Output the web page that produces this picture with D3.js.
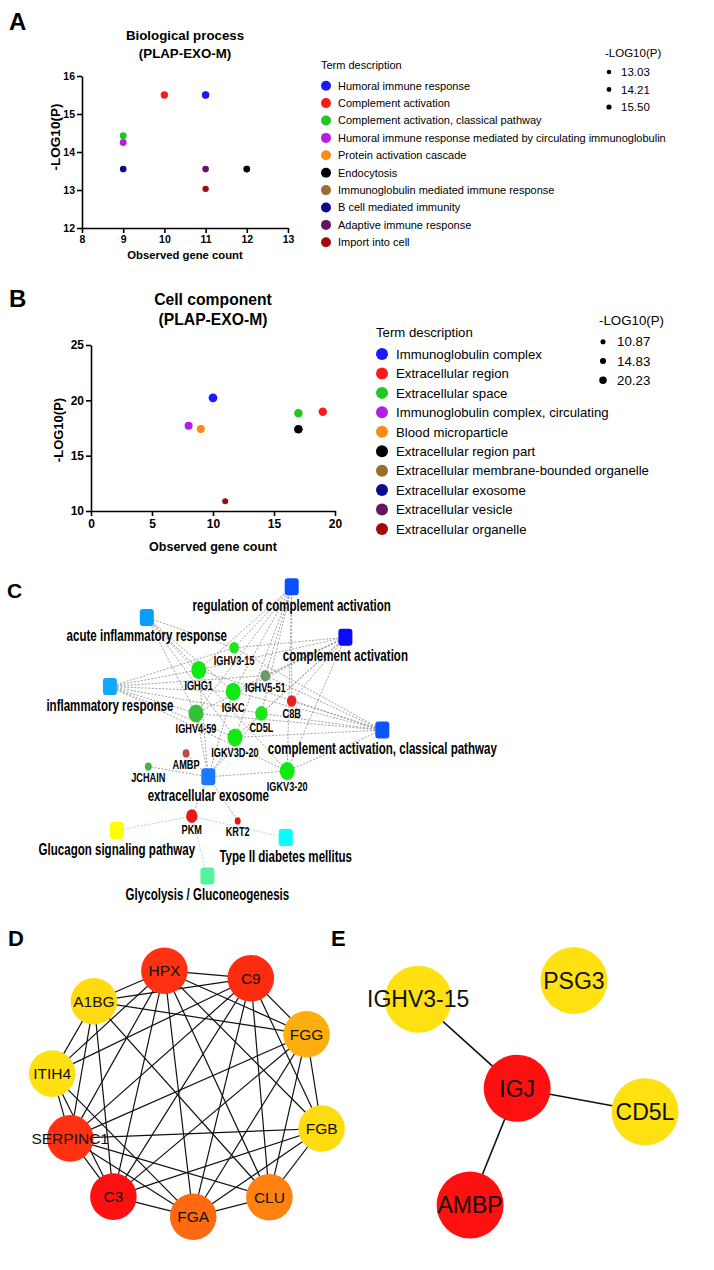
<!DOCTYPE html>
<head>
<meta charset="utf-8">
<script src="https://d3js.org/d3.v7.min.js"></script>
<style>
  body { margin:0; background:#fff; }
  text { font-family: "Liberation Sans", Arial, sans-serif; }
</style>
</head>
<body>
<div id="chart"></div>
<script>
// ---------- A: Biological process
var bpTerms = ["Humoral immune response", "Complement activation", "Complement activation, classical pathway",
  "Humoral immune response mediated by circulating immunoglobulin", "Protein activation cascade", "Endocytosis",
  "Immunoglobulin mediated immune response", "B cell mediated immunity", "Adaptive immune response", "Import into cell"];
var bpGeneCount = [11, 10, 9, 9, 11, 12, 12, 9, 11, 11];
var bpLogP = [15.50, 15.50, 14.43, 14.25, 15.50, 13.55, 13.55, 13.55, 13.55, 13.03];
var bpSizeTicks = [13.03, 14.21, 15.50];
var bpXTicks = [8, 9, 10, 11, 12, 13];
var bpYTicks = [12, 13, 14, 15, 16];

// ---------- B: Cell component
var ccTerms = ["Immunoglobulin complex", "Extracellular region", "Extracellular space", "Immunoglobulin complex, circulating",
  "Blood microparticle", "Extracellular region part", "Extracellular membrane-bounded organelle", "Extracellular exosome",
  "Extracellular vesicle", "Extracellular organelle"];
var ccGeneCount = [10, 19, 17, 8, 9, 17, 17, 17, 17, 11];
var ccLogP = [20.23, 18.97, 18.83, 17.71, 17.41, 17.38, 17.38, 17.38, 17.38, 10.87];
var ccSizeTicks = [10.87, 14.83, 20.23];
var ccXTicks = [0, 5, 10, 15, 20];
var ccYTicks = [10, 15, 20, 25];

var termColors = ["#1a1aff", "#ff1a1a", "#1ec81e", "#b41ee6", "#ff8a14", "#000000", "#9c6b2e", "#0a0a8c", "#641464", "#a00a0a"];

// ---------- C: gene / term network
var cTerms = ["regulation of complement activation", "acute inflammatory response", "complement activation",
  "inflammatory response", "complement activation, classical pathway", "extracellular exosome",
  "Glucagon signaling pathway", "Type II diabetes mellitus", "Glycolysis / Gluconeogenesis"];
var cTermKind = ["GO", "GO", "GO", "GO", "GO", "GO", "KEGG", "KEGG", "KEGG"];
var cGenes = ["IGHV3-15", "IGHG1", "IGHV5-51", "IGKC", "C8B", "IGHV4-59", "CD5L", "IGKV3D-20", "AMBP", "JCHAIN", "IGKV3-20", "PKM", "KRT2"];
var cGeneWeight = [3, 6, 3, 6, 3, 6, 4.5, 6, 1.5, 1.5, 6, 4, 1];
var cLinks = [
  ["regulation of complement activation", ["IGHV3-15", "IGHG1", "IGKC", "IGHV5-51", "IGHV4-59", "CD5L", "IGKV3D-20", "IGKV3-20", "C8B"]],
  ["complement activation", ["IGHV3-15", "IGHG1", "IGKC", "IGHV5-51", "IGHV4-59", "CD5L", "IGKV3D-20", "IGKV3-20", "C8B"]],
  ["complement activation, classical pathway", ["IGHV3-15", "IGHG1", "IGKC", "IGHV5-51", "IGHV4-59", "C8B", "IGKV3D-20", "IGKV3-20", "CD5L"]],
  ["acute inflammatory response", ["IGHG1", "IGKC", "IGHV4-59", "IGKV3D-20", "IGHV3-15", "IGKV3-20"]],
  ["inflammatory response", ["IGHG1", "IGKC", "IGHV4-59", "IGKV3D-20", "IGHV3-15", "IGHV5-51", "IGKV3-20", "CD5L"]],
  ["extracellular exosome", ["AMBP", "JCHAIN", "IGKV3D-20", "IGKC", "IGHG1", "IGKV3-20", "PKM", "KRT2", "IGHV4-59", "CD5L"]],
  ["Glucagon signaling pathway", ["PKM"]],
  ["Type II diabetes mellitus", ["PKM"]],
  ["Glycolysis / Gluconeogenesis", ["PKM"]]
];
// layout grid 0-100
var cTermPos = [[63.9, 2.1], [15.6, 11.7], [81.8, 17.9], [3.3, 33.3], [94.1, 46.9], [36.1, 61.5], [5.6, 78.3], [61.9, 80.5], [35.8, 92.5]];
var cGenePos = [[44.7, 21.2], [32.9, 28.1], [55.1, 29.9], [44.4, 34.9], [63.9, 37.8], [32, 41.7], [53.8, 41.7], [45, 49.2], [28.7, 54.2], [16.1, 58.3], [62.4, 59.7], [30.6, 73.8], [45.9, 75.3]];
var cTermColors = ["#0a50ff", "#0a9cff", "#0a0aff", "#10a8ff", "#0a55ff", "#1a7aff", "#ffff00", "#00ffff", "#55f5a0"];
var cGeneColors = ["#1ee61e", "#10ea10", "#6a9a6a", "#10ea10", "#e82020", "#35c035", "#1ee61e", "#10ea10", "#b84a4a", "#40b840", "#10ea10", "#e81818", "#f01010"];

// ---------- D: PPI cluster
var dGenes = ["HPX", "C9", "FGG", "FGB", "CLU", "FGA", "C3", "SERPINC1", "ITIH4", "A1BG"];
var dScore = [0.84, 0.87, 0.24, 0.02, 0.45, 0.57, 1.0, 0.84, 0.0, 0.03];
var dEdges = [
  ["HPX", "C9"], ["HPX", "A1BG"], ["HPX", "ITIH4"], ["HPX", "SERPINC1"], ["HPX", "C3"], ["HPX", "FGA"], ["HPX", "CLU"], ["HPX", "FGB"], ["HPX", "FGG"],
  ["C9", "A1BG"], ["C9", "ITIH4"], ["C9", "SERPINC1"], ["C9", "C3"], ["C9", "FGA"], ["C9", "CLU"], ["C9", "FGB"], ["C9", "FGG"],
  ["A1BG", "FGG"], ["A1BG", "ITIH4"], ["A1BG", "SERPINC1"], ["A1BG", "C3"], ["A1BG", "CLU"],
  ["ITIH4", "SERPINC1"], ["ITIH4", "C3"], ["ITIH4", "FGA"],
  ["SERPINC1", "C3"], ["SERPINC1", "FGA"], ["SERPINC1", "FGB"], ["SERPINC1", "FGG"], ["SERPINC1", "CLU"],
  ["C3", "FGA"], ["C3", "FGB"], ["C3", "FGG"],
  ["FGA", "CLU"], ["FGA", "FGB"], ["FGA", "FGG"],
  ["CLU", "FGB"], ["CLU", "FGG"], ["FGB", "FGG"]
];
var dPos = [[44.8, 6.9], [73.6, 9.4], [92.2, 28.1], [97.2, 59.5], [79.8, 82.4], [54.4, 88.9], [27.8, 82.2], [13.4, 62.8], [7.4, 41.2], [21.3, 17.1]];

// ---------- E: second cluster
var eGenes = ["IGHV3-15", "PSG3", "IGJ", "CD5L", "AMBP"];
var eScore = [0, 0, 1, 0, 1];
var eEdges = [["IGHV3-15", "IGJ"], ["IGJ", "CD5L"], ["IGJ", "AMBP"]];
var ePos = [[29.4, 16.4], [81.3, 10.2], [62.4, 46.1], [105, 53.9], [46.7, 85]];

// =====================================================
var W = 714, H = 1270;
var svg = d3.select("#chart").append("svg").attr("width", W).attr("height", H);
svg.append("rect").attr("width", W).attr("height", H).attr("fill", "#fff");

function label(g, x, y, s, o) {
  o = o || {};
  var t = g.append("text")
    .attr("transform", "translate(" + x + "," + y + ")" + (o.rot ? " rotate(" + o.rot + ")" : "") + " scale(" + (o.sx || 1) + ",1)")
    .attr("text-anchor", o.anchor || "start")
    .attr("font-size", o.size || 12)
    .attr("font-weight", o.bold ? "bold" : "normal")
    .attr("fill", o.fill || "#000")
    .text(s);
  return t;
}

// panel letters
label(svg, 9, 30, "A", {size: 24, bold: true});
label(svg, 9, 307, "B", {size: 24, bold: true});
label(svg, 7, 598, "C", {size: 21, bold: true});
label(svg, 8, 946, "D", {size: 22, bold: true});
label(svg, 331, 946, "E", {size: 22, bold: true});

function scatterPanel(c) {
  var g = svg.append("g");
  var x = d3.scaleLinear().domain(c.xDomain).range(c.xRange);
  var y = d3.scaleLinear().domain(c.yDomain).range(c.yRange);
  var r = d3.scaleLinear().domain(d3.extent(c.sizeTicks)).range(c.rRange);

  c.title.forEach(function(t, i) {
    label(g, c.titleX, c.titleY[i], t, {anchor: "middle", size: c.titleSize, bold: true});
  });

  var gx = g.append("g").attr("transform", "translate(0," + c.yRange[0] + ")")
    .call(d3.axisBottom(x).tickValues(c.xTicks).tickFormat(d3.format("d")).tickSize(5).tickSizeOuter(0).tickPadding(3));
  var gy = g.append("g").attr("transform", "translate(" + c.xRange[0] + ",0)")
    .call(d3.axisLeft(y).tickValues(c.yTicks).tickFormat(d3.format("d")).tickSize(5).tickSizeOuter(0).tickPadding(2));
  [gx, gy].forEach(function(a) {
    a.select(".domain").attr("stroke", "#000").attr("stroke-width", 1.6);
    a.selectAll(".tick line").attr("stroke", "#000").attr("stroke-width", 1.6);
    a.selectAll(".tick text").attr("fill", "#000").attr("font-size", c.tickSize)
      .attr("font-weight", "bold").attr("font-family", "Liberation Sans, Arial, sans-serif");
  });

  label(g, c.xLabel[0], c.xLabel[1], "Observed gene count", {anchor: "middle", size: c.labelSize, bold: true});
  label(g, c.yLabel[0], c.yLabel[1], "-LOG10(P)", {anchor: "middle", size: c.yLabelSize, bold: true, rot: -90});

  // points, last term drawn first
  var order = d3.range(c.terms.length).reverse();
  g.selectAll("circle.pt").data(order).join("circle")
    .attr("class", "pt")
    .attr("cx", function(i) { return x(c.count[i]); })
    .attr("cy", function(i) { return y(c.logP[i]); })
    .attr("r", function(i) { return r(c.logP[i]); })
    .attr("fill", function(i) { return termColors[i]; });

  // term legend
  var L = c.legend;
  label(g, L.x - L.r, L.headY, "Term description", {size: L.size});
  var li = g.selectAll("g.li").data(c.terms).join("g").attr("class", "li")
    .attr("transform", function(d, i) { return "translate(" + L.x + "," + (L.y0 + i * L.gap) + ")"; });
  li.append("circle").attr("r", L.r).attr("fill", function(d, i) { return termColors[i]; });
  li.append("text").attr("x", L.tx - L.x).attr("y", L.size * 0.36)
    .attr("font-size", L.size).text(function(d) { return d; });

  // size legend
  var S = c.sizeLegend;
  label(g, S.x - 4, S.headY, "-LOG10(P)", {size: S.size});
  var si = g.selectAll("g.si").data(c.sizeTicks).join("g").attr("class", "si")
    .attr("transform", function(d, i) { return "translate(" + S.x + "," + (S.y0 + i * S.gap) + ")"; });
  si.append("circle").attr("r", function(d) { return r(d) * S.k; }).attr("fill", "#000");
  si.append("text").attr("x", S.tx - S.x).attr("y", S.size * 0.36)
    .attr("font-size", S.size).text(function(d) { return d3.format(".2f")(d); });
}

scatterPanel({
  terms: bpTerms, count: bpGeneCount, logP: bpLogP, sizeTicks: bpSizeTicks,
  xDomain: [8, 13], xRange: [82, 288], yDomain: [12, 16], yRange: [228, 76],
  xTicks: bpXTicks, yTicks: bpYTicks, tickSize: 10.5,
  title: ["Biological process", "(PLAP-EXO-M)"], titleX: 185, titleY: [40, 58], titleSize: 13.3,
  xLabel: [185, 259], yLabel: [60, 137], labelSize: 11.3, yLabelSize: 13.5,
  rRange: [3.2, 3.7],
  legend: {x: 326, r: 5, tx: 338, y0: 85.7, gap: 17.4, headY: 69, size: 11},
  sizeLegend: {x: 609, tx: 621, y0: 72, gap: 17.5, headY: 57, size: 11.5, k: 0.7}
});

scatterPanel({
  terms: ccTerms, count: ccGeneCount, logP: ccLogP, sizeTicks: ccSizeTicks,
  xDomain: [0, 20], xRange: [91, 335], yDomain: [10, 25], yRange: [511, 345],
  xTicks: ccXTicks, yTicks: ccYTicks, tickSize: 12,
  title: ["Cell component", "(PLAP-EXO-M)"], titleX: 213, titleY: [305, 325], titleSize: 15.7,
  xLabel: [213, 551], yLabel: [63, 430], labelSize: 12.5, yLabelSize: 13,
  rRange: [3, 4.4],
  legend: {x: 382, r: 6, tx: 396, y0: 354, gap: 19.44, headY: 337, size: 13.2},
  sizeLegend: {x: 603, tx: 617, y0: 341.7, gap: 19.3, headY: 325, size: 13.3, k: 0.85}
});

// ---------- C network
(function() {
  var g = svg.append("g");
  var x = d3.scaleLinear().domain([0, 100]).range([100, 400]);
  var y = d3.scaleLinear().domain([0, 100]).range([580, 900]);
  var sx = 0.68;
  var rx = d3.scaleLinear().domain([1, 6]).range([3, 7.5]);
  var termIdx = {}, geneIdx = {};
  cTerms.forEach(function(t, i) { termIdx[t] = i; });
  cGenes.forEach(function(t, i) { geneIdx[t] = i; });

  var links = [];
  cLinks.forEach(function(l) {
    l[1].forEach(function(gn) { links.push({t: termIdx[l[0]], g: geneIdx[gn]}); });
  });
  g.selectAll("line").data(links).join("line")
    .attr("x1", function(d) { return x(cTermPos[d.t][0]); })
    .attr("y1", function(d) { return y(cTermPos[d.t][1]); })
    .attr("x2", function(d) { return x(cGenePos[d.g][0]); })
    .attr("y2", function(d) { return y(cGenePos[d.g][1]); })
    .attr("stroke", function(d) { return cTermKind[d.t] === "KEGG" ? "#8ccdf2" : "#8a8a8a"; })
    .attr("stroke-width", 0.8)
    .attr("stroke-dasharray", "2,1.5");

  var tn = g.selectAll("g.term").data(cTerms).join("g").attr("class", "term")
    .attr("transform", function(d, i) { return "translate(" + x(cTermPos[i][0]) + "," + y(cTermPos[i][1]) + ")"; });
  tn.append("rect").attr("x", -7).attr("y", -8.5).attr("width", 14).attr("height", 17).attr("rx", 3)
    .attr("fill", function(d, i) { return cTermColors[i]; });
  tn.each(function(d) {
    label(d3.select(this), 0, 24, d, {anchor: "middle", size: 17, bold: true, sx: sx});
  });

  var gn = g.selectAll("g.gene").data(cGenes).join("g").attr("class", "gene")
    .attr("transform", function(d, i) { return "translate(" + x(cGenePos[i][0]) + "," + y(cGenePos[i][1]) + ")"; });
  gn.append("ellipse")
    .attr("rx", function(d, i) { return rx(cGeneWeight[i]); })
    .attr("ry", function(d, i) { return rx(cGeneWeight[i]) * 1.2; })
    .attr("fill", function(d, i) { return cGeneColors[i]; });
  gn.each(function(d, i) {
    label(d3.select(this), 0, rx(cGeneWeight[i]) * 1.2 + 11, d, {anchor: "middle", size: 13.5, bold: true, sx: sx});
  });
})();

// ---------- D / E clusters
var heat = d3.scaleLinear().domain([0, 1]).range(["#ffe010", "#ff1010"]);

function cluster(genes, score, edges, pos, o) {
  var g = svg.append("g");
  var x = d3.scaleLinear().domain([0, 100]).range(o.xr);
  var y = d3.scaleLinear().domain([0, 100]).range(o.yr);
  var idx = {};
  genes.forEach(function(t, i) { idx[t] = i; });
  g.selectAll("line").data(edges).join("line")
    .attr("x1", function(d) { return x(pos[idx[d[0]]][0]); })
    .attr("y1", function(d) { return y(pos[idx[d[0]]][1]); })
    .attr("x2", function(d) { return x(pos[idx[d[1]]][0]); })
    .attr("y2", function(d) { return y(pos[idx[d[1]]][1]); })
    .attr("stroke", "#111").attr("stroke-width", o.ew);
  var n = g.selectAll("g.n").data(genes).join("g").attr("class", "n")
    .attr("transform", function(d, i) { return "translate(" + x(pos[i][0]) + "," + y(pos[i][1]) + ")"; });
  n.append("circle").attr("r", o.r).attr("fill", function(d, i) { return heat(score[i]); });
  n.append("text").attr("text-anchor", "middle").attr("y", o.size * 0.36)
    .attr("font-size", o.size).attr("fill", "#111").text(function(d) { return d; });
}

cluster(dGenes, dScore, dEdges, dPos, {xr: [30, 330], yr: [950, 1250], r: 23.3, size: 15.5, ew: 1.2});
cluster(eGenes, eScore, eEdges, ePos, {xr: [330, 630], yr: [950, 1250], r: 33.5, size: 23, ew: 1.6});
</script>
</body>
